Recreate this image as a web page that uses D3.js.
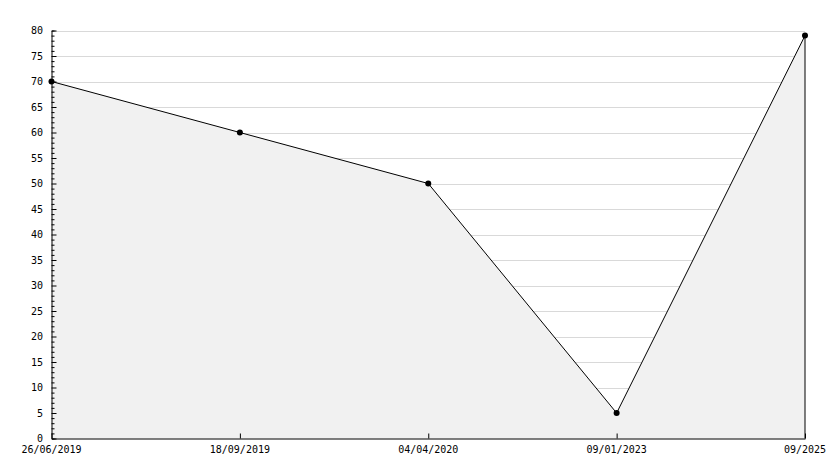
<!DOCTYPE html>
<html><head><meta charset="utf-8">
<script src="https://cdn.jsdelivr.net/npm/d3@7"></script>
<style>body{margin:0;background:#fff}svg{display:block}text{font-family:"DejaVu Sans Mono",monospace;font-size:10px;fill:#000}</style>
</head><body><svg id="c" width="834" height="468"></svg>
<script>
const categories = ["26/06/2019","18/09/2019","04/04/2020","09/01/2023","09/2025"];
const values = [70, 60, 50, 5, 79];
const yTicks = [0,5,10,15,20,25,30,35,40,45,50,55,60,65,70,75,80];

const svg = d3.select("#c");
const L = 51.5, R = 805, T = 30.5, B = 438.5;
const x = d3.scalePoint().domain(categories).range([L, R]);
const y = d3.scaleLinear().domain([0, 80]).range([B, T]);

// gridlines
svg.append("g").selectAll("line").data(yTicks.filter(d => d > 0)).join("line")
  .attr("x1", L).attr("x2", R).attr("y1", d => Math.round(y(d)) + 0.5).attr("y2", d => Math.round(y(d)) + 0.5)
  .attr("stroke", "#d9d9d9").attr("stroke-width", 1);

const data = categories.map((c, i) => ({c, v: values[i]}));
// area
svg.append("path").datum(data)
  .attr("d", d3.area().x(d => x(d.c)).y0(y(0)).y1(d => y(d.v)))
  .attr("fill", "#f1f1f1");
// right edge
svg.append("line").attr("x1", x(categories[categories.length-1])).attr("x2", x(categories[categories.length-1]))
  .attr("y1", y(values[values.length-1])).attr("y2", B).attr("stroke", "#000");
// line
svg.append("path").datum(data)
  .attr("d", d3.line().x(d => x(d.c)).y(d => y(d.v)))
  .attr("fill", "none").attr("stroke", "#000").attr("stroke-width", 1);

// y axis
const ya = svg.append("g").attr("transform", `translate(${L},0)`)
  .call(d3.axisRight(y).tickValues(d3.range(0, 81, 1)).tickSize(3).tickFormat(""));
ya.select(".domain").attr("stroke", "#000");
ya.selectAll(".tick line").attr("x2", d => d % 5 === 0 ? 5 : 3).attr("stroke", "#000");
svg.append("g").selectAll("text").data(yTicks).join("text")
  .attr("x", 43).attr("y", d => y(d)).attr("dy", "0.35em").attr("text-anchor", "end").text(d => d);

// x axis
const xa = svg.append("g").attr("transform", `translate(0,${B})`)
  .call(d3.axisTop(x).tickSize(5).tickFormat("").tickSizeOuter(0));
xa.select(".domain").attr("stroke", "#000");
xa.selectAll(".tick line").attr("stroke", "#000");
svg.append("g").selectAll("text").data(categories).join("text")
  .attr("x", d => x(d)).attr("y", 453).attr("text-anchor", "middle").text(d => d);

// markers
svg.append("g").selectAll("circle").data(data).join("circle")
  .attr("cx", d => x(d.c)).attr("cy", d => y(d.v)).attr("r", 3).attr("fill", "#000");
</script></body></html>
